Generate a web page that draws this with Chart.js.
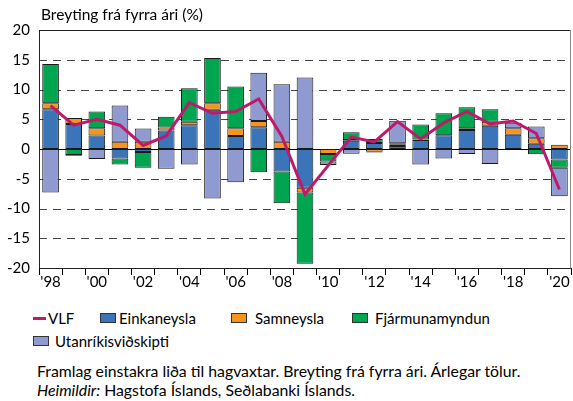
<!DOCTYPE html>
<html lang="is">
<head>
<meta charset="utf-8">
<script src="https://cdn.jsdelivr.net/npm/chart.js@4.4.1/dist/chart.umd.min.js"></script>
<style>
  body { margin: 0; background: #fff; font-family: Lato, sans-serif; color: #000; }
  #wrap { position: relative; width: 573px; height: 401px; }
  #chart { position: absolute; left: 0; top: 0; }
  .t { position: absolute; font-size: 15px; line-height: 18px; white-space: nowrap; }
  .n { position: absolute; font-size: 15.8px; line-height: 18px; white-space: nowrap; }
  .sw { position: absolute; width: 14px; height: 8px; border: 1px solid #333; }
  .ln { position: absolute; width: 13px; height: 3px; background: #be1a69; }
</style>
</head>
<body>
<div id="wrap">
  <canvas id="chart" width="573" height="296"></canvas>

  <div class="ln" style="left:33px;top:317px"></div>
  <div class="t" style="left:48px;top:309px">VLF</div>
  <div class="sw" style="left:100px;top:313px;background:#3b75b9"></div>
  <div class="t" style="left:119px;top:309px">Einkaneysla</div>
  <div class="sw" style="left:231px;top:313px;background:#f7941d"></div>
  <div class="t" style="left:255px;top:309px">Samneysla</div>
  <div class="sw" style="left:352px;top:313px;background:#00a54f"></div>
  <div class="t" style="left:375px;top:309px">Fjármunamyndun</div>
  <div class="sw" style="left:33px;top:336px;background:#8f9bd0"></div>
  <div class="t" style="left:55px;top:332px">Utanríkisviðskipti</div>

  <div class="n" style="left:37px;top:362px">Framlag einstakra liða til hagvaxtar. Breyting frá fyrra ári. Árlegar tölur.</div>
  <div class="n" style="left:37px;top:381px"><i>Heimildir:</i> Hagstofa Íslands, Seðlabanki Íslands.</div>
</div>

<script>
// years on the x axis, labels only every other year
const years = [1998, 1999, 2000, 2001, 2002, 2003, 2004, 2005, 2006, 2007, 2008, 2009,
               2010, 2011, 2012, 2013, 2014, 2015, 2016, 2017, 2018, 2019, 2020];
const tickLabels = ["'98", "", "'00", "", "'02", "", "'04", "", "'06", "", "'08", "",
                    "'10", "", "'12", "", "'14", "", "'16", "", "'18", "", "'20"];

// contributions to growth, percentage points
const einkaneysla = [6.7, 4.2, 2.25, -1.6, -0.5, 3.1, 4.0, 6.6, 2.2, 3.65, -3.8, -6.5,
                     0, 1.4, 1.0, 0.5, 1.5, 2.3, 3.2, 3.9, 2.4, 0.9, -1.75];
const samneysla = [1.0, 1.0, 1.24, 1.2, 1.2, 0.5, 0.6, 1.1, 1.3, 1.07, 1.2, -0.8,
                   -0.85, 0.1, -0.45, 0.3, 0.1, 0, 0.3, 0.7, 1.1, 0.9, 0.7];
const fjarmunamyndun = [6.6, -1.0, 2.8, -1.0, -2.65, 1.8, 5.6, 7.6, 7.0, -3.9, -5.3, -12.0,
                        -1.25, 1.3, 0.7, 0.15, 2.5, 3.7, 3.5, 2.1, 0, -0.9, -1.4];
const utanrikis = [-7.3, -0.15, -1.7, 6.1, 2.25, -3.3, -2.6, -8.3, -5.6, 8.1, 9.7, 12.0,
                   -0.6, -0.8, -0.15, 3.8, -2.6, -1.6, -0.85, -2.5, 0.9, 2.0, -4.8];
const vlf = [7.3, 4.0, 5.0, 4.0, 0.6, 2.2, 7.8, 6.0, 6.3, 8.4, 2.1, -7.6,
             -2.8, 2.0, 1.2, 4.6, 1.7, 4.4, 6.3, 4.2, 4.7, 2.6, -6.8];

const yTicks = [-20, -15, -10, -5, 0, 5, 10, 15, 20];
const dashedAt = [-15, -10, -5, 5, 10, 15];

const FONT = 'Lato, sans-serif';

// dashed grid, zero line, frame and title
const decor = {
  id: 'decor',
  beforeDatasetsDraw(chart) {
    const { ctx, chartArea: a, scales: { y } } = chart;
    ctx.save();
    ctx.lineWidth = 1;
    ctx.strokeStyle = '#444';
    ctx.setLineDash([8, 6]);
    dashedAt.forEach(v => {
      const py = Math.round(y.getPixelForValue(v)) + 0.5;
      ctx.beginPath();
      ctx.moveTo(a.left, py);
      ctx.lineTo(a.right, py);
      ctx.stroke();
    });
    ctx.setLineDash([]);
    ctx.strokeStyle = '#000';
    const z = Math.round(y.getPixelForValue(0)) + 0.5;
    ctx.beginPath();
    ctx.moveTo(a.left, z);
    ctx.lineTo(a.right, z);
    ctx.stroke();
    ctx.restore();
  },
  afterDraw(chart) {
    const { ctx, chartArea: a } = chart;
    const l = Math.round(a.left) + 0.5, r = Math.round(a.right) - 0.5;
    const t = Math.round(a.top) + 0.5, b = Math.round(a.bottom) + 0.5;
    ctx.save();
    ctx.lineWidth = 1;
    ctx.strokeStyle = '#222';
    ctx.beginPath();
    ctx.moveTo(l, b); ctx.lineTo(l, t); ctx.lineTo(r, t);
    ctx.moveTo(l, b); ctx.lineTo(r, b);
    ctx.stroke();
    ctx.strokeStyle = '#888';
    ctx.beginPath();
    ctx.moveTo(r, t); ctx.lineTo(r, b);
    ctx.stroke();
    ctx.fillStyle = '#000';
    ctx.font = '15.5px ' + FONT;
    ctx.textBaseline = 'middle';
    ctx.fillText('Breyting frá fyrra ári (%)', a.left + 2, 15);
    ctx.restore();
  }
};

function barSet(label, data, color) {
  return {
    type: 'bar',
    label: label,
    data: data,
    backgroundColor: color,
    borderColor: '#1a1a1a',
    borderWidth: 1,
    borderSkipped: false,
    stack: 'parts',
    order: 1
  };
}

new Chart(document.getElementById('chart'), {
  data: {
    labels: years,
    datasets: [
      {
        type: 'line',
        label: 'VLF',
        data: vlf,
        borderColor: '#be1a69',
        borderWidth: 3,
        pointRadius: 0,
        tension: 0,
        fill: false,
        stack: 'vlf',
        order: 0
      },
      barSet('Einkaneysla', einkaneysla, '#3b75b9'),
      barSet('Samneysla', samneysla, '#f7941d'),
      barSet('Fjármunamyndun', fjarmunamyndun, '#00a54f'),
      barSet('Utanríkisviðskipti', utanrikis, '#8f9bd0')
    ]
  },
  options: {
    responsive: false,
    animation: false,
    devicePixelRatio: 1,
    layout: { padding: { top: 30, right: 2, left: 0, bottom: 0 } },
    datasets: { bar: { categoryPercentage: 1, barPercentage: 0.72 } },
    plugins: { legend: { display: false }, tooltip: { enabled: false } },
    scales: {
      x: {
        stacked: true,
        offset: true,
        grid: { display: true, offset: true, drawOnChartArea: false, drawTicks: true, tickLength: 7, color: '#000' },
        border: { display: true, color: '#000' },
        ticks: {
          autoSkip: false,
          maxRotation: 0,
          padding: -2,
          color: '#000',
          font: { family: FONT, size: 15 },
          callback: (v, i) => tickLabels[i]
        },
        afterFit: s => { s.height = 28; }
      },
      y: {
        stacked: true,
        min: -20,
        max: 20,
        afterBuildTicks: s => { s.ticks = yTicks.map(v => ({ value: v })); },
        grid: { display: false, drawTicks: false },
        border: { display: true, color: '#000' },
        ticks: {
          padding: 9,
          color: '#000',
          font: { family: FONT, size: 15 }
        },
        afterFit: s => { s.width = 39; }
      }
    }
  },
  plugins: [decor]
});
</script>
</body>
</html>
